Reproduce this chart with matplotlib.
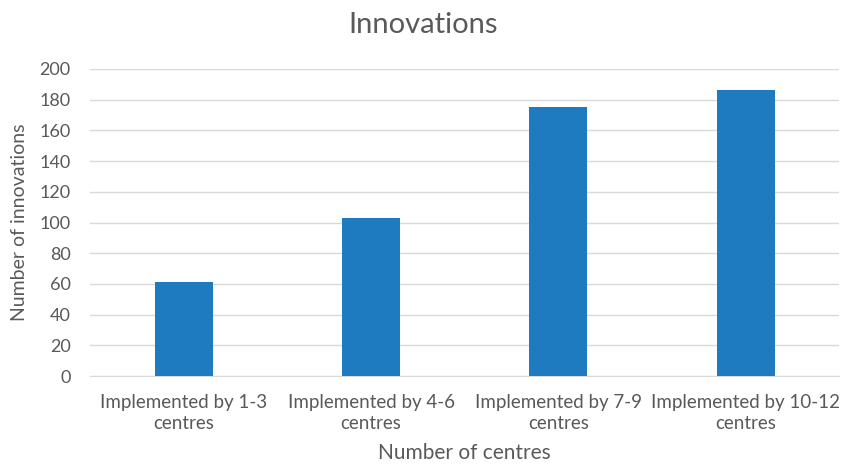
import matplotlib.pyplot as plt
import numpy as np

categories = ["Implemented by 1-3\ncentres", "Implemented by 4-6\ncentres",
              "Implemented by 7-9\ncentres", "Implemented by 10-12\ncentres"]
innovations = [61, 103, 175, 186]
yticks = list(range(0, 201, 20))

plt.rcParams['font.family'] = ['Lato', 'DejaVu Sans']
text_col = '#595959'

fig = plt.figure(figsize=(8.42, 4.66), dpi=100)
ax = fig.add_axes([0.107, 0.193, 0.89, 0.659])

x = np.arange(len(categories))
ax.bar(x, innovations, width=0.31, color='#1f7bc0', zorder=3)

ax.set_xlim(-0.5, len(categories) - 0.5)
ax.set_ylim(0, 200)
ax.set_yticks(yticks)
ax.set_xticks(x)
ax.set_xticklabels(categories, fontsize=13.5, color=text_col, linespacing=1.3)
ax.tick_params(axis='y', labelsize=13, labelcolor=text_col, length=0, pad=14)
ax.tick_params(axis='x', length=0, pad=13)
ax.grid(axis='y', color='#d9d9d9', linewidth=1, zorder=0)
for s in ['top', 'right', 'left']:
    ax.spines[s].set_visible(False)
ax.spines['bottom'].set_color('#d9d9d9')

fig.suptitle("Innovations", fontsize=21, color=text_col, x=0.502, y=0.975, va='top')
ax.set_ylabel("Number of innovations", fontsize=14, color=text_col, labelpad=8)
ax.set_xlabel("Number of centres", fontsize=15, color=text_col, labelpad=8)

fig.savefig("out.png", dpi=100)
